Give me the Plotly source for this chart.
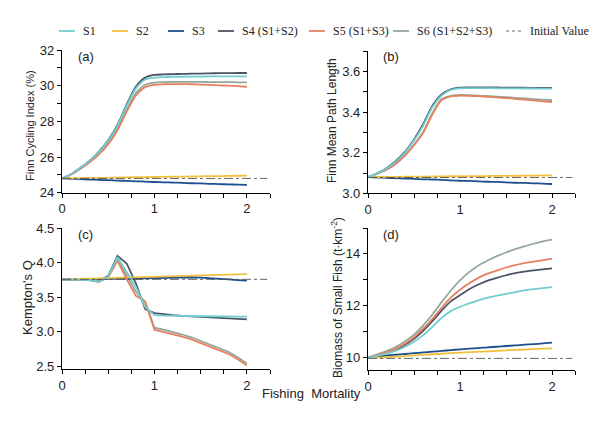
import plotly.graph_objects as go

W, H = 600, 423
PAGE_OFFSET = 8  # the page body margin pushes the figure right and down

# fishing mortality steps
F = [0.0, 0.1, 0.2, 0.3, 0.4, 0.5, 0.6, 0.7, 0.8, 0.9, 1.0,
     1.1, 1.2, 1.3, 1.4, 1.5, 1.6, 1.7, 1.8, 1.9, 2.0]
F_INIT_END = 2.22

names = ["S1", "S2", "S3", "S4 (S1+S2)", "S5 (S1+S3)", "S6 (S1+S2+S3)"]
colors = ["#72CDD2", "#F2C03E", "#1D4F8C", "#4A5466", "#E6805F", "#93A89A"]

# (a) Finn Cycling Index (%)
fci_s1 = [24.80, 25.05, 25.40, 25.80, 26.28, 26.92, 27.75, 28.88, 29.85, 30.35, 30.45,
          30.48, 30.50, 30.50, 30.51, 30.51, 30.52, 30.52, 30.52, 30.52, 30.52]
fci_s2 = [24.80, 24.81, 24.82, 24.83, 24.83, 24.84, 24.85, 24.86, 24.87, 24.87, 24.88,
          24.89, 24.90, 24.90, 24.91, 24.92, 24.93, 24.93, 24.94, 24.95, 24.96]
fci_s3 = [24.80, 24.78, 24.76, 24.74, 24.72, 24.70, 24.68, 24.66, 24.64, 24.62, 24.60,
          24.58, 24.57, 24.55, 24.53, 24.52, 24.50, 24.48, 24.47, 24.45, 24.44]
fci_s4 = [24.80, 25.05, 25.40, 25.80, 26.30, 26.95, 27.80, 28.95, 29.95, 30.45, 30.60,
          30.63, 30.65, 30.66, 30.67, 30.68, 30.69, 30.70, 30.70, 30.71, 30.71]
fci_s5 = [24.80, 25.02, 25.34, 25.70, 26.15, 26.72, 27.50, 28.55, 29.45, 29.92, 30.05,
          30.08, 30.09, 30.09, 30.08, 30.06, 30.04, 30.02, 30.00, 29.97, 29.94]
fci_s6 = [24.80, 25.03, 25.36, 25.74, 26.20, 26.80, 27.60, 28.65, 29.60, 30.05, 30.17,
          30.20, 30.21, 30.21, 30.21, 30.21, 30.20, 30.20, 30.20, 30.19, 30.19]
fci_init = 24.80

# (b) Finn Mean Path Length
fmpl_s1 = [3.080, 3.098, 3.122, 3.155, 3.200, 3.260, 3.334, 3.424, 3.482, 3.510, 3.518,
           3.519, 3.519, 3.519, 3.518, 3.518, 3.518, 3.517, 3.517, 3.516, 3.516]
fmpl_s2 = [3.080, 3.080, 3.081, 3.081, 3.082, 3.082, 3.082, 3.083, 3.083, 3.084, 3.084,
           3.084, 3.085, 3.085, 3.086, 3.086, 3.086, 3.087, 3.087, 3.088, 3.088]
fmpl_s3 = [3.080, 3.078, 3.076, 3.075, 3.073, 3.071, 3.069, 3.068, 3.066, 3.064, 3.062,
           3.061, 3.059, 3.057, 3.056, 3.054, 3.052, 3.051, 3.049, 3.048, 3.046]
fmpl_s4 = [3.080, 3.099, 3.124, 3.158, 3.204, 3.266, 3.342, 3.432, 3.488, 3.513, 3.521,
           3.522, 3.522, 3.522, 3.522, 3.521, 3.521, 3.521, 3.520, 3.520, 3.520]
fmpl_s5 = [3.080, 3.096, 3.116, 3.145, 3.185, 3.237, 3.298, 3.390, 3.460, 3.478, 3.482,
           3.481, 3.479, 3.476, 3.473, 3.470, 3.466, 3.462, 3.458, 3.454, 3.450]
fmpl_s6 = [3.080, 3.097, 3.118, 3.148, 3.188, 3.241, 3.303, 3.395, 3.464, 3.481, 3.485,
           3.484, 3.482, 3.480, 3.477, 3.474, 3.471, 3.468, 3.465, 3.462, 3.459]
fmpl_init = 3.078

# (c) Kempton's Q
kq_s1 = [3.76, 3.76, 3.755, 3.75, 3.725, 3.80, 4.08, 3.87, 3.65, 3.36, 3.24,
         3.235, 3.23, 3.23, 3.225, 3.225, 3.225, 3.22, 3.22, 3.22, 3.22]
kq_s2 = [3.760, 3.764, 3.767, 3.771, 3.775, 3.779, 3.782, 3.786, 3.790, 3.794, 3.797,
         3.801, 3.805, 3.809, 3.812, 3.816, 3.820, 3.824, 3.827, 3.831, 3.835]
kq_s3 = [3.76, 3.76, 3.76, 3.76, 3.76, 3.77, 3.77, 3.77, 3.77, 3.775, 3.78,
         3.78, 3.785, 3.79, 3.79, 3.785, 3.78, 3.77, 3.76, 3.75, 3.74]
kq_s4 = [3.76, 3.76, 3.755, 3.75, 3.73, 3.81, 4.10, 3.99, 3.70, 3.33, 3.27,
         3.25, 3.24, 3.23, 3.22, 3.215, 3.21, 3.20, 3.195, 3.19, 3.18]
kq_s5 = [3.76, 3.76, 3.755, 3.75, 3.725, 3.79, 4.03, 3.76, 3.52, 3.44, 3.03,
         3.00, 2.97, 2.93, 2.89, 2.84, 2.79, 2.74, 2.68, 2.60, 2.51]
kq_s6 = [3.76, 3.76, 3.755, 3.75, 3.725, 3.80, 4.05, 3.82, 3.58, 3.43, 3.06,
         3.03, 3.00, 2.96, 2.92, 2.87, 2.82, 2.77, 2.71, 2.63, 2.54]
kq_init = 3.76

# (d) Biomass of Small Fish (t·km-2)
bsf_s1 = [9.98, 10.05, 10.13, 10.24, 10.39, 10.59, 10.85, 11.17, 11.52, 11.78, 11.95,
          12.08, 12.20, 12.30, 12.38, 12.45, 12.52, 12.58, 12.63, 12.67, 12.71]
bsf_s2 = [9.96, 9.98, 10.00, 10.02, 10.04, 10.07, 10.09, 10.11, 10.13, 10.15, 10.17,
          10.19, 10.21, 10.22, 10.24, 10.26, 10.28, 10.29, 10.31, 10.33, 10.34]
bsf_s3 = [9.98, 10.02, 10.06, 10.09, 10.12, 10.15, 10.18, 10.21, 10.24, 10.27, 10.30,
          10.33, 10.35, 10.38, 10.40, 10.43, 10.45, 10.48, 10.50, 10.53, 10.56]
bsf_s4 = [9.98, 10.07, 10.16, 10.29, 10.47, 10.71, 11.02, 11.39, 11.80, 12.16, 12.40,
          12.63, 12.81, 12.96, 13.07, 13.17, 13.25, 13.31, 13.36, 13.40, 13.44]
bsf_s5 = [9.98, 10.08, 10.18, 10.32, 10.52, 10.77, 11.10, 11.48, 11.91, 12.30, 12.61,
          12.86, 13.07, 13.23, 13.35, 13.47, 13.56, 13.64, 13.70, 13.75, 13.81]
bsf_s6 = [9.98, 10.10, 10.23, 10.39, 10.60, 10.87, 11.23, 11.65, 12.13, 12.58, 12.97,
          13.29, 13.55, 13.74, 13.91, 14.05, 14.18, 14.29, 14.39, 14.48, 14.55]
bsf_init = 9.95

# (axis ids, series, initial value, smooth curve?)
panels = [
    ("x", "y", [fci_s1, fci_s2, fci_s3, fci_s4, fci_s5, fci_s6], fci_init, True),
    ("x2", "y2", [fmpl_s1, fmpl_s2, fmpl_s3, fmpl_s4, fmpl_s5, fmpl_s6], fmpl_init, True),
    ("x3", "y3", [kq_s1, kq_s2, kq_s3, kq_s4, kq_s5, kq_s6], kq_init, False),
    ("x4", "y4", [bsf_s1, bsf_s2, bsf_s3, bsf_s4, bsf_s5, bsf_s6], bsf_init, True),
]

draw_order = [5, 3, 2, 1, 4, 0]

fig = go.Figure()
for xa, ya, series, init, smooth in panels:
    for i in draw_order:
        line = dict(color=colors[i], width=1.8)
        if smooth:
            line.update(shape="spline", smoothing=0.7)
        fig.add_trace(go.Scatter(x=F, y=series[i], mode="lines", name=names[i],
                                 line=line, xaxis=xa, yaxis=ya, showlegend=False))
    fig.add_trace(go.Scatter(x=[0, F_INIT_END], y=[init, init], mode="lines",
                             name="Initial Value",
                             line=dict(color="#555555", width=0.9, dash="dashdot"),
                             xaxis=xa, yaxis=ya, showlegend=False))


# page pixel -> paper fraction
def px_x(p):
    return (p - PAGE_OFFSET) / W


def px_y(p):
    return 1 - (p - PAGE_OFFSET) / H


tickfont = dict(family="Liberation Sans, Arial", size=13, color="#222222")
common = dict(showline=True, linecolor="black", linewidth=1.3, ticks="outside",
              ticklen=4, tickwidth=1.3, tickcolor="black", showgrid=False,
              zeroline=False, tickfont=tickfont, automargin=False)
minor_tick = dict(ticks="outside", ticklen=4, tickwidth=1.3, tickcolor="black")

xdom_l = [px_x(62), px_x(270)]
xdom_r = [px_x(368), px_x(575)]
xa_common = dict(common, range=[0, 2.25], tickvals=[0, 1, 2],
                 minor=dict(minor_tick, dtick=0.25, tick0=0))

fig.update_layout(
    width=W, height=H,
    margin=dict(l=0, r=0, t=0, b=0),
    paper_bgcolor="white", plot_bgcolor="white",
    xaxis=dict(xa_common, domain=xdom_l, anchor="y"),
    xaxis2=dict(xa_common, domain=xdom_r, anchor="y2"),
    xaxis3=dict(xa_common, domain=xdom_l, anchor="y3"),
    xaxis4=dict(xa_common, domain=xdom_r, anchor="y4"),
    yaxis=dict(common, domain=[px_y(192.7), px_y(50)], range=[24, 32], dtick=2,
               minor=dict(minor_tick, dtick=1), anchor="x"),
    yaxis2=dict(common, domain=[px_y(193.3), px_y(51.4)], range=[3.0, 3.7],
                tickvals=[3.0, 3.2, 3.4, 3.6], ticktext=["3.0", "3.2", "3.4", "3.6"],
                minor=dict(minor_tick, dtick=0.1, tick0=3.0), anchor="x2"),
    yaxis3=dict(common, domain=[px_y(369), px_y(228.3)], range=[2.46, 4.5],
                tickvals=[2.5, 3.0, 3.5, 4.0, 4.5],
                ticktext=["2.5", "3.0", "3.5", "4.0", "4.5"], anchor="x3"),
    yaxis4=dict(common, domain=[px_y(370), px_y(228)], range=[9.5, 15],
                tickvals=[10, 12, 14],
                minor=dict(minor_tick, dtick=1, tick0=9), anchor="x4"),
)

title_font = dict(family="Liberation Sans, Arial", color="#222222")
annotations = [
    dict(text="Finn Cycling Index (%)", x=px_x(30), y=px_y(126), size=11),
    dict(text="Finn Mean Path Length", x=px_x(332), y=px_y(121), size=12),
    dict(text="Kempton's Q", x=px_x(27), y=px_y(298), size=13),
    dict(text="Biomass of Small Fish (t·km<sup>-2</sup>)", x=px_x(337), y=px_y(298), size=12),
]
for a in annotations:
    fig.add_annotation(text=a["text"], x=a["x"], y=a["y"], xref="paper", yref="paper",
                       textangle=-90, showarrow=False, xanchor="center", yanchor="middle",
                       font=dict(title_font, size=a["size"]))

fig.add_annotation(text="Fishing  Mortality", x=px_x(311), y=px_y(393), xref="paper",
                   yref="paper", showarrow=False, xanchor="center", yanchor="middle",
                   font=dict(title_font, size=13))

panel_labels = [("(a)", 86, 56.7), ("(b)", 390.7, 56.7), ("(c)", 85, 234), ("(d)", 390.7, 234)]
for lab, lx, ly in panel_labels:
    fig.add_annotation(text=lab, x=px_x(lx), y=px_y(ly), xref="paper", yref="paper",
                       showarrow=False, xanchor="center", yanchor="middle",
                       font=dict(title_font, size=13))

# legend drawn by hand to keep the compact spacing
legend_names = names + ["Initial Value"]
legend_colors = colors + ["#555555"]
legend_x = [59, 112, 168, 218, 309, 393, 506]
legend_y = 31
for k, (nm, col, lx) in enumerate(zip(legend_names, legend_colors, legend_x)):
    dash = "dot" if nm == "Initial Value" else "solid"
    width = 0.9 if nm == "Initial Value" else 1.8
    fig.add_shape(type="line", xref="paper", yref="paper",
                  x0=px_x(lx), x1=px_x(lx + 16), y0=px_y(legend_y), y1=px_y(legend_y),
                  line=dict(color=col, width=width, dash=dash))
    fig.add_annotation(text=nm, x=px_x(lx + 22), y=px_y(legend_y), xref="paper",
                       yref="paper", showarrow=False, xanchor="left", yanchor="middle",
                       font=dict(family="Liberation Serif, Times New Roman", size=12,
                                 color="#222222"))

fig.write_html("out.html")
